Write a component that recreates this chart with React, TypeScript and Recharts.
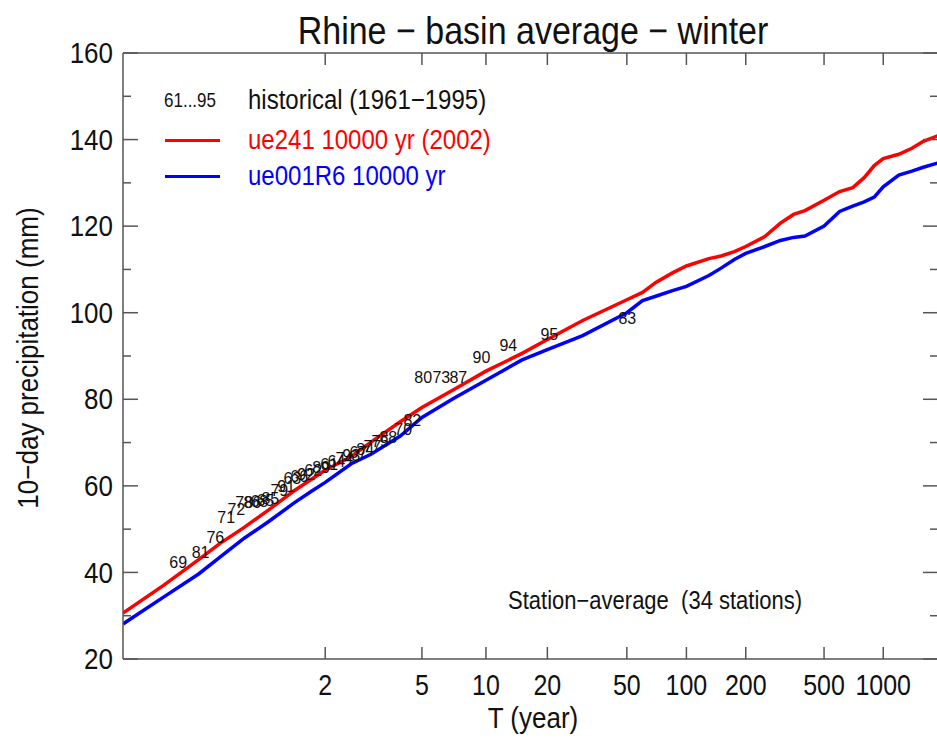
import React from "react";
import { ComposedChart, Line, Scatter, XAxis, YAxis, Legend } from "recharts";

// return period (years) of each point on the simulated curves
const returnPeriods = [
  1.0006, 1.01, 1.05, 1.1, 1.2, 1.35, 1.58, 1.8, 2, 2.5, 3, 4, 5, 7, 10, 15, 20,
  30, 50, 60, 70, 85, 100, 130, 150, 175, 200, 250, 300, 350, 400, 500, 600,
  700, 800, 900, 1000, 1200, 1400, 1600, 1900,
];
// 10-day winter precipitation (mm)
const ue241 = [
  30.6, 37.0, 43.0, 46.6, 50.4, 54.4, 58.8, 61.6, 63.6, 66.8, 70.1, 74.8, 78.1,
  82.2, 86.5, 90.6, 93.8, 98.2, 103.0, 104.7, 107.0, 109.2, 110.8, 112.5, 113.1,
  114.1, 115.3, 117.6, 120.7, 122.7, 123.6, 126.0, 128.0, 128.9, 131.2, 134.0,
  135.6, 136.6, 138.0, 139.6, 140.9,
];
const ue001R6 = [
  28.1, 34.3, 39.7, 43.4, 47.9, 51.7, 56.0, 58.8, 60.8, 65.1, 67.3, 71.5, 75.8,
  80.2, 84.4, 89.1, 91.5, 94.7, 100.0, 102.8, 103.8, 105.1, 106.1, 108.6, 110.3,
  112.3, 113.7, 115.3, 116.7, 117.4, 117.7, 120.0, 123.4, 124.6, 125.6, 126.7,
  129.1, 131.8, 132.7, 133.6, 134.6,
];

// observed winter maxima 1961-1995 at their empirical return periods
const histYears = [
  1969, 1981, 1976, 1971, 1972, 1978, 1986, 1968, 1965, 1985, 1979, 1991, 1963,
  1966, 1992, 1962, 1989, 1961, 1964, 1974, 1993, 1967, 1984, 1977, 1975, 1988,
  1970, 1982, 1980, 1973, 1987, 1990, 1994, 1995, 1983,
];
const histPeriods = [
  1.021, 1.053, 1.088, 1.123, 1.163, 1.2, 1.244, 1.287, 1.328, 1.365, 1.439,
  1.503, 1.564, 1.641, 1.726, 1.819, 1.937, 2.067, 2.193, 2.351, 2.5, 2.665,
  2.842, 3.038, 3.281, 3.55, 4.124, 4.525, 5.071, 6.139, 7.375, 9.51, 12.84,
  20.46, 50.3,
];
const histPrecip = [
  42.4, 44.7, 48.1, 52.8, 54.6, 56.2, 56.2, 56.4, 56.7, 57.1, 59.0, 59.9, 61.8,
  62.2, 62.7, 63.6, 64.3, 65.0, 65.7, 66.4, 67.1, 67.8, 68.4, 69.1, 70.3, 71.2,
  73.1, 75.1, 85.1, 85.1, 85.1, 89.7, 92.4, 95.0, 98.7,
];

const periodTicks = [2, 5, 10, 20, 50, 100, 200, 500, 1000];
const precipTicks = [20, 30, 40, 50, 60, 70, 80, 90, 100, 110, 120, 130, 140, 150, 160];

const seriesNames = {
  hist: "historical (1961\u22121995)",
  ue241: "ue241 10000 yr (2002)",
  ue001R6: "ue001R6 10000 yr",
};

// Gumbel reduced variate, used as the x coordinate
const gumbel = (T: number) => -Math.log(-Math.log(1 - 1 / T));

const curveData = returnPeriods.map((T, i) => ({
  g: gumbel(T),
  ue241: ue241[i],
  ue001R6: ue001R6[i],
}));
const histData = histYears.map((yr, i) => ({
  g: gumbel(histPeriods[i]),
  p: histPrecip[i],
  year: yr,
}));

const xDomain = [gumbel(1.0006), gumbel(1900)];
const xTicks = periodTicks.map(gumbel);

const shortYear = (yr: number) => String(yr % 100).padStart(2, "0");
const histRange = `${shortYear(Math.min(...histYears))}...${shortYear(Math.max(...histYears))}`;

const FONT = '"Liberation Sans", Arial, Helvetica, sans-serif';
const FRAME = "#555555";
const STRETCH = 1.15;

const LeftTick = (props: any) => {
  const { x, y, payload } = props;
  const major = payload.value % 20 === 0;
  return (
    <g>
      <line x1={x} x2={x + (major ? 15 : 8)} y1={y} y2={y} stroke={FRAME} strokeWidth={1.5} />
      {major && (
        <text
          transform={`translate(${x - 10},${y}) scale(1,${STRETCH})`}
          textAnchor="end"
          dominantBaseline="central"
          fontSize={26}
          fontFamily={FONT}
          fill="#111"
        >
          {payload.value}
        </text>
      )}
    </g>
  );
};

const RightTick = (props: any) => {
  const { x, y, payload } = props;
  const major = payload.value % 20 === 0;
  return <line x1={x} x2={x - (major ? 15 : 8)} y1={y} y2={y} stroke={FRAME} strokeWidth={1.5} />;
};

const TopTick = (props: any) => {
  const { x, y } = props;
  return <line x1={x} x2={x} y1={y} y2={y + 12} stroke={FRAME} strokeWidth={1.5} />;
};

const BottomTick = (props: any) => {
  const { x, y, index } = props;
  return (
    <g>
      <line x1={x} x2={x} y1={y} y2={y - 12} stroke={FRAME} strokeWidth={1.5} />
      <text
        transform={`translate(${x},${y + 26}) scale(1,${STRETCH})`}
        textAnchor="middle"
        dominantBaseline="central"
        fontSize={25}
        fontFamily={FONT}
        fill="#111"
      >
        {periodTicks[index]}
      </text>
    </g>
  );
};

const YearLabel = (props: any) => {
  const { cx, cy, payload } = props;
  return (
    <text
      x={cx}
      y={cy}
      textAnchor="middle"
      dominantBaseline="central"
      fontSize={16}
      fontFamily={FONT}
      fill="#111"
    >
      {shortYear(payload.year)}
    </text>
  );
};

const stretched = (size: number): React.CSSProperties => ({
  position: "absolute",
  fontFamily: FONT,
  fontSize: size,
  lineHeight: `${size}px`,
  whiteSpace: "nowrap",
  transform: `scaleY(${STRETCH})`,
});

const LegendContent = () => {
  const rows = [
    { key: "hist", top: 20, color: "#111" },
    { key: "ue241", top: 60, color: "#ff0000" },
    { key: "ue001R6", top: 96, color: "#0000ff" },
  ];
  return (
    <div style={{ position: "relative", width: 380, height: 116 }}>
      {rows.map((r) => (
        <React.Fragment key={r.key}>
          {r.key === "hist" ? (
            <div style={{ ...stretched(17), left: 4, top: r.top - 8, color: "#111" }}>{histRange}</div>
          ) : (
            <div
              style={{
                position: "absolute",
                left: 5,
                top: r.top - 1.5,
                width: 55,
                height: 3.5,
                background: r.color,
              }}
            />
          )}
          <div style={{ ...stretched(24), left: 88, top: r.top - 12, color: r.color }}>
            {seriesNames[r.key as keyof typeof seriesNames]}
          </div>
        </React.Fragment>
      ))}
    </div>
  );
};

export default function App() {
  return (
    <div
      style={{
        position: "absolute",
        left: 0,
        top: 0,
        width: 937,
        height: 738,
        overflow: "hidden",
        background: "#fff",
        fontFamily: FONT,
      }}
    >
      <div style={{ ...stretched(34), left: 0, width: 1066, top: 13, textAlign: "center", color: "#111" }}>
        Rhine − basin average − winter
      </div>
      <div
        style={{
          ...stretched(26),
          left: 28 - 200,
          top: 358 - 13,
          width: 400,
          textAlign: "center",
          color: "#111",
          transform: `rotate(-90deg) scaleY(${STRETCH})`,
        }}
      >
        10−day precipitation (mm)
      </div>
      <div style={{ ...stretched(26), left: 333, width: 400, top: 718 - 13, textAlign: "center", color: "#111" }}>
        T (year)
      </div>
      <div style={{ ...stretched(22), left: 508, top: 601 - 11, color: "#111" }}>
        Station−average&nbsp;&nbsp;(34 stations)
      </div>

      <ComposedChart
        width={950}
        height={738}
        data={curveData}
        margin={{ top: 52, right: 0, bottom: 0, left: 0 }}
        style={{ position: "absolute", left: 0, top: 0 }}
      >
        <XAxis
          xAxisId="b"
          dataKey="g"
          type="number"
          domain={xDomain}
          ticks={xTicks}
          interval={0}
          allowDataOverflow
          height={79}
          tickSize={0}
          tickMargin={0}
          tickLine={false}
          tick={<BottomTick />}
          axisLine={{ stroke: FRAME, strokeWidth: 1.5 }}
        />
        <XAxis
          xAxisId="t"
          orientation="top"
          dataKey="g"
          type="number"
          domain={xDomain}
          ticks={xTicks}
          interval={0}
          allowDataOverflow
          height={1}
          tickSize={0}
          tickMargin={0}
          tickLine={false}
          tick={<TopTick />}
          axisLine={{ stroke: FRAME, strokeWidth: 1.5 }}
        />
        <YAxis
          yAxisId="l"
          type="number"
          domain={[20, 160]}
          ticks={precipTicks}
          interval={0}
          allowDataOverflow
          width={123}
          tickSize={0}
          tickMargin={0}
          tickLine={false}
          tick={<LeftTick />}
          axisLine={{ stroke: FRAME, strokeWidth: 1.5 }}
        />
        <YAxis
          yAxisId="r"
          orientation="right"
          type="number"
          domain={[20, 160]}
          ticks={precipTicks}
          interval={0}
          allowDataOverflow
          width={12}
          tickSize={0}
          tickMargin={0}
          tickLine={false}
          tick={<RightTick />}
          axisLine={{ stroke: FRAME, strokeWidth: 1.5 }}
        />
        <Legend
          layout="vertical"
          align="center"
          verticalAlign="middle"
          content={<LegendContent />}
          wrapperStyle={{ left: 160, top: 80, width: 380, height: 116 }}
        />
        <Line
          xAxisId="b"
          yAxisId="l"
          dataKey="ue241"
          name={seriesNames.ue241}
          stroke="#ff0000"
          strokeWidth={3.5}
          dot={false}
          type="linear"
          isAnimationActive={false}
        />
        <Line
          xAxisId="b"
          yAxisId="l"
          dataKey="ue001R6"
          name={seriesNames.ue001R6}
          stroke="#0000ff"
          strokeWidth={3.5}
          dot={false}
          type="linear"
          isAnimationActive={false}
        />
        <Scatter
          xAxisId="b"
          yAxisId="l"
          data={histData}
          dataKey="p"
          name={seriesNames.hist}
          fill="#111"
          shape={<YearLabel />}
          isAnimationActive={false}
        />
      </ComposedChart>
    </div>
  );
}
